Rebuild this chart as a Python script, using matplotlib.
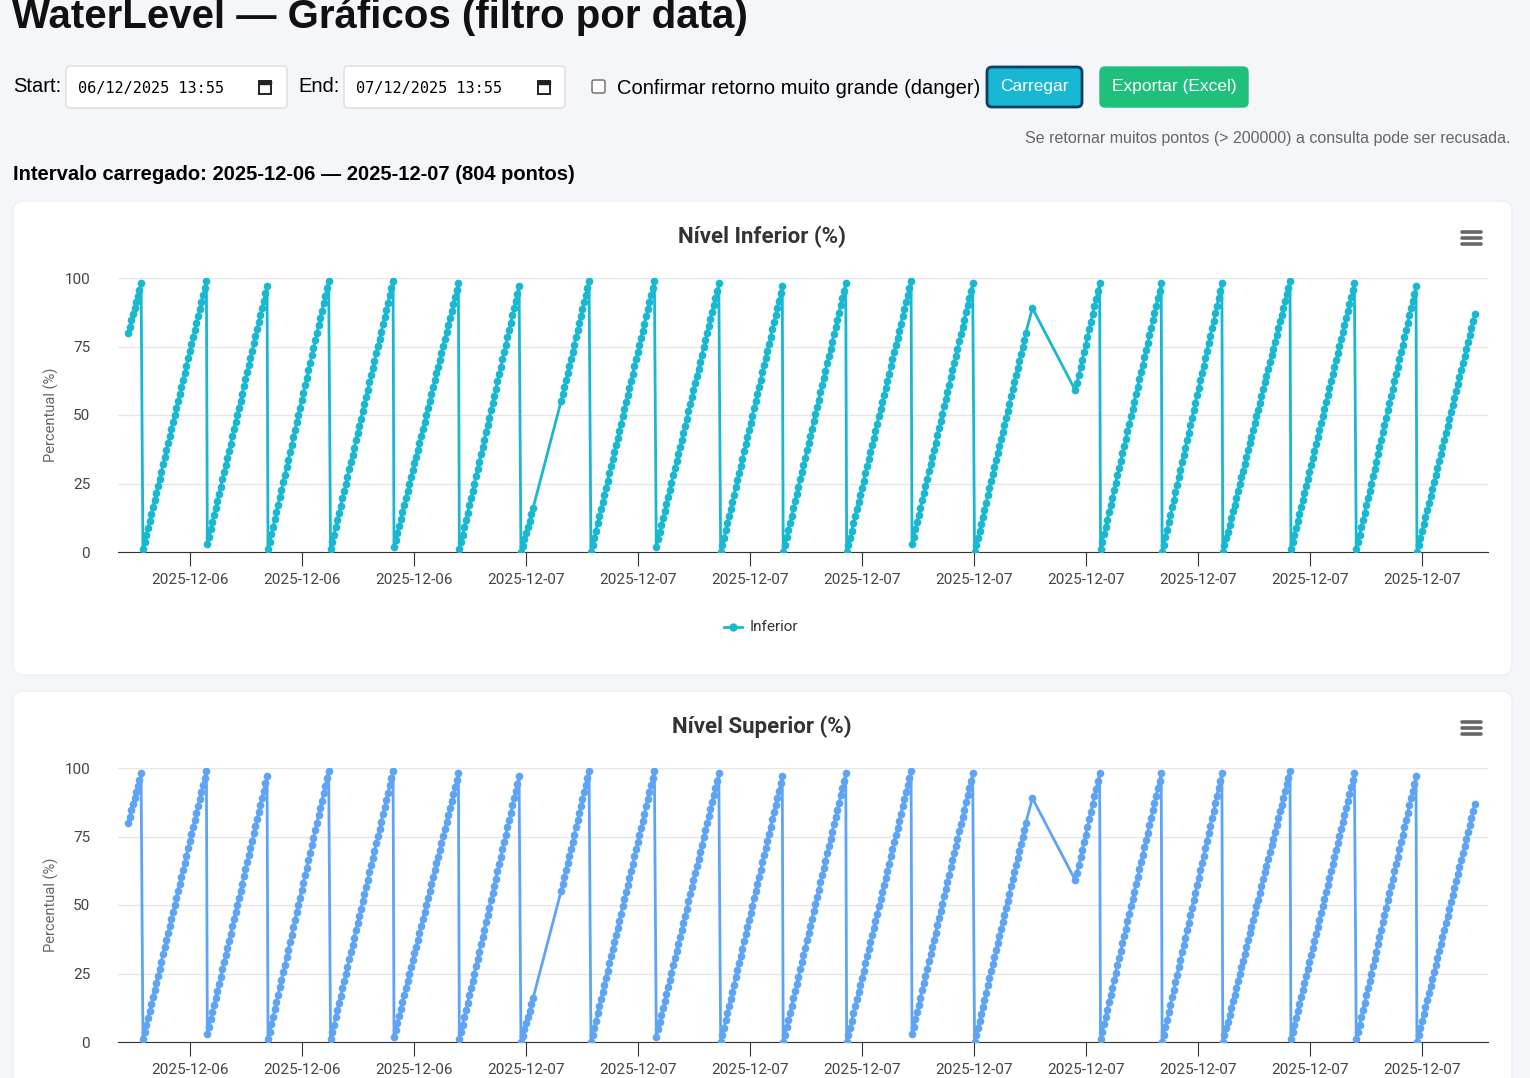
import numpy as np
import pandas as pd
import matplotlib
matplotlib.use("Agg")
import matplotlib.pyplot as plt
import matplotlib.dates as mdates
from matplotlib.patches import FancyBboxPatch, Rectangle

plt.rcParams['font.family'] = ['Roboto', 'DejaVu Sans']

# ramp anchors: (start time, start %, end time, end %)
ramps = [
    ("2025-12-06 16:54", 80, "2025-12-06 17:08", 98),
    ("2025-12-06 17:10", 1, "2025-12-06 18:18", 99),
    ("2025-12-06 18:19", 3, "2025-12-06 19:23", 97),
    ("2025-12-06 19:24", 1, "2025-12-06 20:29", 99),
    ("2025-12-06 20:31", 1, "2025-12-06 21:38", 99),
    ("2025-12-06 21:39", 2, "2025-12-06 22:48", 98),
    ("2025-12-06 22:49", 1, "2025-12-06 23:53", 97),
    ("2025-12-06 23:55", 0, "2025-12-07 00:08", 16),
    ("2025-12-07 00:38", 55, "2025-12-07 01:08", 99),
    ("2025-12-07 01:10", 0, "2025-12-07 02:18", 99),
    ("2025-12-07 02:20", 2, "2025-12-07 03:27", 98),
    ("2025-12-07 03:29", 0, "2025-12-07 04:35", 97),
    ("2025-12-07 04:36", 0, "2025-12-07 05:43", 98),
    ("2025-12-07 05:44", 0, "2025-12-07 06:53", 99),
    ("2025-12-07 06:54", 3, "2025-12-07 07:59", 98),
    ("2025-12-07 08:01", 0, "2025-12-07 08:56", 80),
    ("2025-12-07 09:03", 89, "2025-12-07 09:03", 89),
    ("2025-12-07 09:49", 59, "2025-12-07 10:15", 98),
    ("2025-12-07 10:16", 1, "2025-12-07 11:21", 98),
    ("2025-12-07 11:22", 0, "2025-12-07 12:26", 98),
    ("2025-12-07 12:27", 0, "2025-12-07 13:39", 99),
    ("2025-12-07 13:40", 1, "2025-12-07 14:48", 98),
    ("2025-12-07 14:50", 1, "2025-12-07 15:54", 97),
    ("2025-12-07 15:55", 0, "2025-12-07 16:57", 87),
]
y_ticks = [0, 25, 50, 75, 100]

times, vals = [], []
for t0, v0, t1, v1 in ramps:
    a, b = pd.Timestamp(t0), pd.Timestamp(t1)
    n = max(1, int(round((b - a).total_seconds() / 108)) + 1)
    times += list(pd.date_range(a, b, periods=n))
    vals += list(np.linspace(v0, v1, n))
x_num = mdates.date2num(times)
vals = np.array(vals)

W, H = 1530, 1078
fig = plt.figure(figsize=(W / 100, H / 100), dpi=100)
fig.patch.set_facecolor("#f4f6f9")
bg = fig.add_axes([0, 0, 1, 1])
bg.set_xlim(0, W)
bg.set_ylim(H, 0)
bg.axis("off")

def box(x, y, w, h, fc, ec, r=4, lw=1):
    bg.add_patch(FancyBboxPatch((x, y), w, h, boxstyle=f"round,pad=0,rounding_size={r}",
                                fc=fc, ec=ec, lw=lw))

bg.text(12, 17, "WaterLevel — Gráficos (filtro por data)", fontsize=29, fontweight="bold",
        va="center", color="#111", family=["Liberation Sans", "DejaVu Sans"])

form_font = ["Liberation Sans", "DejaVu Sans"]
bg.text(13, 87, "Start:", fontsize=14.5, va="center", family=form_font)
box(66, 66, 221, 42, "white", "#dddddd")
bg.text(78, 88, "06/12/2025 13:55", fontsize=11, va="center", family="DejaVu Sans Mono")
bg.text(298, 87, "End:", fontsize=14.5, va="center", family=form_font)
box(344, 66, 221, 42, "white", "#dddddd")
bg.text(356, 88, "07/12/2025 13:55", fontsize=11, va="center", family="DejaVu Sans Mono")
for cx in (265, 544):
    bg.add_patch(Rectangle((cx - 6, 81), 12, 13, fc="none", ec="#222", lw=1.4))
    bg.add_patch(Rectangle((cx - 6, 81), 12, 3, fc="#222", ec="#222", lw=1))
box(592, 80, 13, 13, "white", "#666", r=2)
bg.text(617, 88, "Confirmar retorno muito grande (danger)", fontsize=14.5, va="center", family=form_font)
box(987, 67, 95, 40, "#19b7d3", "#0d3f66", r=5, lw=2)
bg.text(1034, 87, "Carregar", fontsize=12.5, va="center", ha="center", color="white", family=form_font)
box(1100, 67, 148, 40, "#1fc07c", "#1fc07c", r=5)
bg.text(1174, 87, "Exportar (Excel)", fontsize=12.5, va="center", ha="center", color="white", family=form_font)
bg.text(1511, 138, "Se retornar muitos pontos (> 200000) a consulta pode ser recusada.",
        fontsize=11.5, va="center", ha="right", color="#666", family=form_font)
bg.text(13, 174, "Intervalo carregado: 2025-12-06 — 2025-12-07 (804 pontos)", fontsize=14.5,
        fontweight="bold", va="center", family=form_font)

def chart(top, title, color, legend):
    box(13, top, 1499, 474, "white", "#eceff3", r=10)
    bg.text(762, top + 36, title, fontsize=16, fontweight="bold", ha="center", va="center", color="#333")
    for dy in (-6, 0, 6):
        bg.plot([1462, 1481], [top + 37 + dy] * 2, color="#666", lw=2.6, solid_capstyle="round")
    y100, y0 = top + 77, top + 351
    ax = fig.add_axes([118 / W, 1 - y0 / H, 1370 / W, (y0 - y100) / H])
    ax.set_facecolor("none")
    ax.plot(x_num, vals, color=color, lw=2, marker="o", ms=4.5, zorder=3)
    ax.set_ylim(0, 100)
    t_start = mdates.date2num(pd.Timestamp("2025-12-06 16:54"))
    ax.set_xlim(t_start - 10 / 56 / 24, t_start + 1360 / 56 / 24)
    ax.set_yticks(y_ticks)
    ax.grid(axis="y", color="#e6e6e6", lw=1)
    ax.set_axisbelow(True)
    ax.xaxis.set_major_locator(mdates.HourLocator(byhour=range(0, 24, 2)))
    ax.xaxis.set_major_formatter(mdates.DateFormatter("%Y-%m-%d"))
    for s in ("top", "right", "left"):
        ax.spines[s].set_visible(False)
    ax.spines["bottom"].set_color("#333")
    ax.tick_params(axis="y", length=0, labelsize=11, labelcolor="#444", pad=20)
    ax.tick_params(axis="x", length=10, color="#333", labelsize=11, labelcolor="#444", pad=5)
    ax.set_ylabel("Percentual (%)", fontsize=10.5, color="#666", labelpad=4)
    if legend:
        bg.plot([724, 742], [top + 426] * 2, color=color, lw=2)
        bg.plot([733], [top + 426], color=color, marker="o", ms=5)
        bg.text(750, top + 426, legend, fontsize=11, va="center", color="#333")

chart(201, "Nível Inferior (%)", "#17b8d0", "Inferior")
chart(691, "Nível Superior (%)", "#5ea4f5", None)

fig.savefig("out.png", dpi=100, facecolor=fig.get_facecolor())
